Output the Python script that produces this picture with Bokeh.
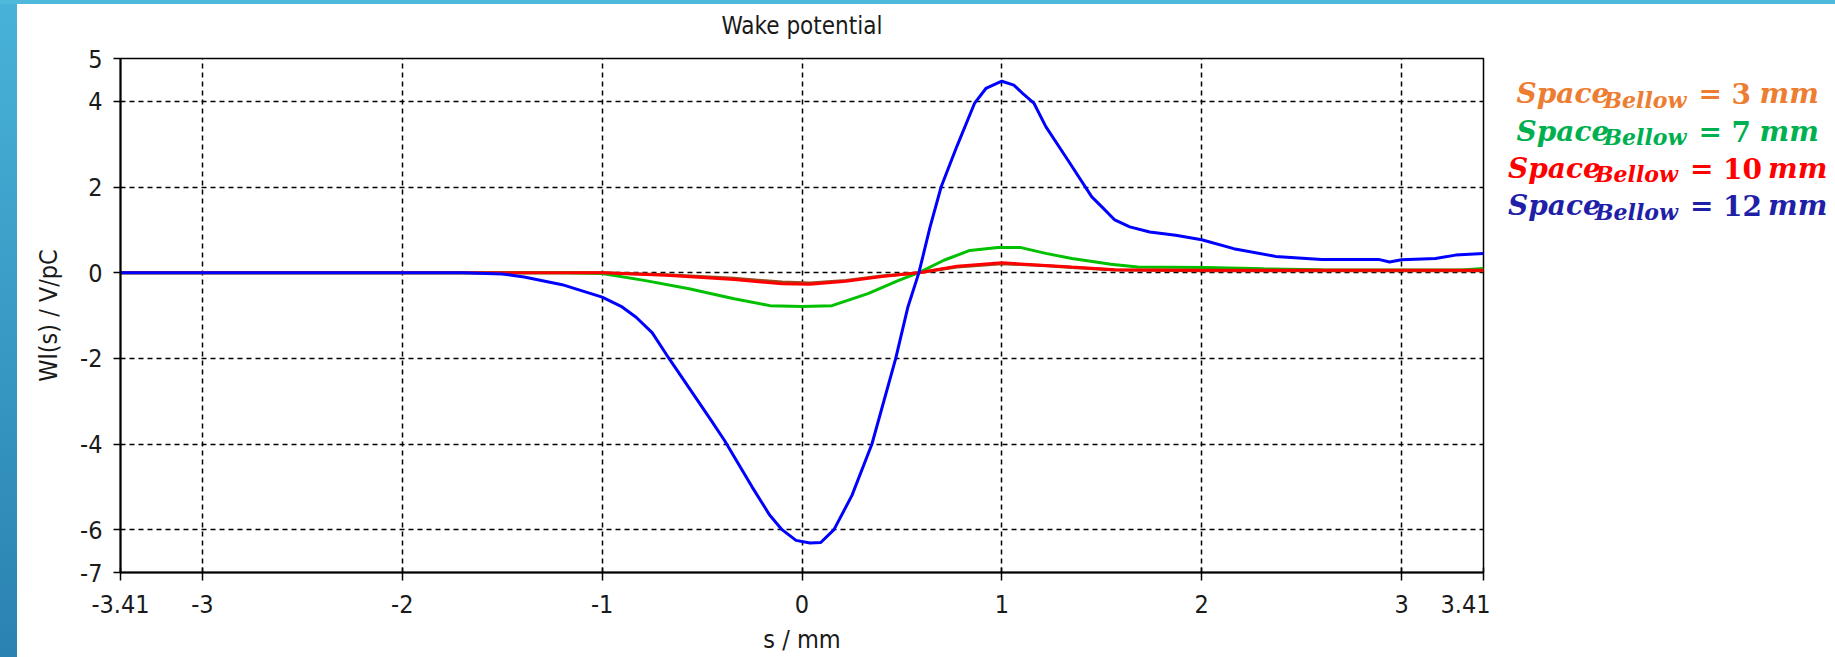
from bokeh.plotting import figure
from bokeh.models import Range1d, FixedTicker, PrintfTickFormatter, Div
from bokeh.layouts import column, row
from bokeh.core.properties import value
from bokeh.embed import file_html
from bokeh.resources import INLINE

# ---- wake potential curves (s in mm, W in V/pC) ----
s_12mm = [-3.41, -1.7, -1.5, -1.39, -1.2, -1.0, -0.9, -0.83, -0.75, -0.68, -0.6,
          -0.52, -0.453, -0.386, -0.32, -0.25, -0.163, -0.1, -0.03, 0.04, 0.094, 0.16,
          0.25, 0.35, 0.469, 0.53, 0.585, 0.64, 0.696, 0.775, 0.864, 0.92, 1.0,
          1.06, 1.11, 1.16, 1.22, 1.33, 1.45, 1.508, 1.565, 1.64, 1.74, 1.87, 2.0,
          2.16, 2.37, 2.6, 2.885, 2.94, 3.0, 3.17, 3.27, 3.41]
w_12mm = [0.0, 0.0, -0.03, -0.1, -0.28, -0.57, -0.8, -1.04, -1.4, -1.9, -2.45,
          -3.0, -3.46, -3.93, -4.45, -5.0, -5.65, -6.0, -6.25, -6.31, -6.3, -6.0,
          -5.2, -4.0, -2.0, -0.8, 0.0, 1.05, 2.0, 2.95, 3.96, 4.3, 4.47,
          4.38, 4.16, 3.96, 3.41, 2.63, 1.77, 1.5, 1.23, 1.07, 0.95, 0.875, 0.77,
          0.56, 0.38, 0.31, 0.31, 0.25, 0.30, 0.33, 0.41, 0.445]

s_7mm = [-3.41, -1.2, -1.0, -0.79, -0.565, -0.34, -0.16, 0.0, 0.15, 0.33, 0.484,
         0.585, 0.71, 0.84, 0.98, 1.09, 1.22, 1.35, 1.47, 1.545, 1.68, 2.02, 2.31,
         2.6, 3.0, 3.3, 3.41]
w_7mm = [0.0, 0.0, -0.02, -0.18, -0.375, -0.61, -0.77, -0.79, -0.77, -0.49, -0.18,
         0.0, 0.29, 0.52, 0.59, 0.59, 0.45, 0.33, 0.25, 0.195, 0.13, 0.12, 0.09,
         0.07, 0.06, 0.06, 0.1]

s_10mm = [-3.41, -1.0, -0.68, -0.34, -0.1, 0.04, 0.22, 0.40, 0.585, 0.775, 1.0,
          1.22, 1.35, 1.565, 2.0, 3.41]
w_10mm = [0.0, 0.0, -0.06, -0.16, -0.26, -0.27, -0.2, -0.09, 0.0, 0.15, 0.23,
          0.17, 0.13, 0.07, 0.055, 0.055]

s_3mm = [-3.41, -1.0, -0.68, -0.34, -0.1, 0.04, 0.22, 0.40, 0.585, 0.775, 1.0,
         1.22, 1.35, 1.565, 2.0, 3.41]
w_3mm = [0.0, 0.0, -0.05, -0.13, -0.22, -0.24, -0.18, -0.08, 0.0, 0.13, 0.21,
         0.16, 0.12, 0.06, 0.045, 0.045]

spacings_mm = [3, 7, 10, 12]
line_colors = ["#9A4A1C", "#00C000", "#FF0000", "#0000FF"]
legend_colors = ["#ED7D31", "#00B050", "#FF0000", "#1F1FA8"]

x_ticks = [-3.41, -3, -2, -1, 0, 1, 2, 3, 3.41]
y_ticks = [-7, -6, -4, -2, 0, 2, 4, 5]

UI_FONT = "DejaVu Sans Condensed"
MATH_FONT = "DejaVu Serif"

# page geometry (pixels): bars, frame edges
SIDE_W, TOP_H = 17, 4
FRAME_L, FRAME_R, FRAME_T, FRAME_B = 120, 1483.3, 58.3, 571.7
PAGE_W, PAGE_H = 1835, 657
TITLE_H = 40
MAIN_W = 1473

# ---- title strip ----
head = figure(width=MAIN_W, height=TITLE_H,
              x_range=Range1d(FRAME_L, FRAME_R), y_range=Range1d(TOP_H + TITLE_H, TOP_H),
              output_backend="svg", toolbar_location=None,
              min_border_left=FRAME_L - SIDE_W, min_border_right=7,
              min_border_top=0, min_border_bottom=0, outline_line_color=None)
head.axis.visible = False
head.grid.visible = False
head.text(x=[(FRAME_L + FRAME_R) / 2], y=[25], text=["Wake potential"],
          text_font=value(UI_FONT), text_font_size=value("24px"),
          text_color="#1a1a1a", text_align="center", text_baseline="middle")

# ---- main plot ----
p = figure(width=MAIN_W, height=PAGE_H - TOP_H - TITLE_H,
           x_range=Range1d(-3.41, 3.41), y_range=Range1d(-7, 5),
           output_backend="svg", toolbar_location=None,
           min_border_left=FRAME_L - SIDE_W, min_border_right=7,
           min_border_top=round(FRAME_T - TOP_H - TITLE_H),
           min_border_bottom=round(PAGE_H - FRAME_B),
           x_axis_label="s / mm", y_axis_label="Wl(s) / V/pC")

p.background_fill_color = "white"
p.border_fill_color = "white"
p.outline_line_color = "black"
p.outline_line_width = 1.5

p.xaxis.ticker = FixedTicker(ticks=x_ticks)
p.yaxis.ticker = FixedTicker(ticks=y_ticks)
p.axis.formatter = PrintfTickFormatter(format="%g")
p.axis.minor_tick_line_color = None
p.axis.axis_line_color = "black"
p.axis.axis_line_width = 2
p.axis.major_tick_line_color = "black"
p.axis.major_tick_line_width = 1.5
p.axis.major_label_text_font = UI_FONT
p.axis.major_label_text_font_size = "25px"
p.axis.major_label_text_color = "#1a1a1a"
p.axis.axis_label_text_font = UI_FONT
p.axis.axis_label_text_font_size = "25px"
p.axis.axis_label_text_font_style = "normal"
p.axis.axis_label_text_color = "#1a1a1a"

p.xaxis.major_tick_out = 8
p.xaxis.major_tick_in = 5
p.xaxis.major_label_standoff = 14
p.xaxis.axis_label_standoff = 9
p.yaxis.major_tick_out = 7
p.yaxis.major_tick_in = 0
p.yaxis.major_label_standoff = 11
p.yaxis.axis_label_standoff = 14

p.grid.grid_line_color = "black"
p.grid.grid_line_dash = "5 4"
p.grid.grid_line_width = 1.5

series = [(s_3mm, w_3mm), (s_7mm, w_7mm), (s_10mm, w_10mm), (s_12mm, w_12mm)]
for (sx, wy), color in zip(series, line_colors):
    p.line(sx, wy, line_color=color, line_width=3)

# ---- legend panel, in page pixel coordinates (y grows downwards) ----
leg_w = PAGE_W - SIDE_W - MAIN_W
leg = figure(width=leg_w, height=PAGE_H - TOP_H,
             x_range=Range1d(SIDE_W + MAIN_W, PAGE_W), y_range=Range1d(FRAME_B, FRAME_T),
             output_backend="svg", toolbar_location=None,
             min_border_left=0, min_border_right=0,
             min_border_top=round(FRAME_T - TOP_H), min_border_bottom=round(PAGE_H - FRAME_B),
             outline_line_color=None)
leg.axis.visible = False
leg.grid.visible = False
leg.background_fill_color = "white"
leg.border_fill_color = "white"

legend_center_x = 1665
first_baseline = 93.5
baseline_step = 37.3
for i, (gap, color) in enumerate(zip(spacings_mm, legend_colors)):
    ndig = len(str(gap))
    mm_off = 215 + 17 * ndig + 11
    total = mm_off + 55
    x0 = legend_center_x - total / 2
    yb = first_baseline + i * baseline_step
    pieces = [
        ("Space", 0, 0, "28px", "bold italic"),
        ("Bellow", 87, 6, "22px", "bold italic"),
        ("=", 182, 0, "28px", "bold"),
        (str(gap), 215, 0, "28px", "bold"),
        ("mm", mm_off, 0, "28px", "bold italic"),
    ]
    for txt, dx, dy, size, style in pieces:
        leg.text(x=[x0 + dx], y=[yb + dy], text=[txt],
                 text_font=value(MATH_FONT), text_font_size=value(size),
                 text_font_style=style, text_color=color,
                 text_align="left", text_baseline="alphabetic")

top_bar = Div(width=PAGE_W, height=TOP_H, margin=0,
              styles={"background-color": "#4FB9DC"})
side_bar = Div(width=SIDE_W, height=PAGE_H - TOP_H, margin=0,
               styles={"background": "linear-gradient(to bottom, #48B2D8, #2A82B2)"})

layout = column(top_bar, row(side_bar, column(head, p, spacing=0), leg, spacing=0), spacing=0)

open("out.html", "w").write(file_html(layout, INLINE))
